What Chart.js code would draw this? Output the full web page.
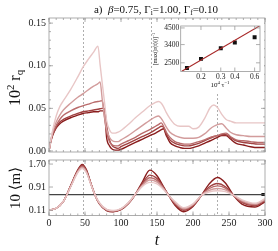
<!DOCTYPE html>
<html>
<head>
<meta charset="utf-8">
<script src="https://cdn.jsdelivr.net/npm/chart.js@4.4.1/dist/chart.umd.min.js"></script>
<style>
  body { margin: 0; background: #fff; }
  #wrap { position: relative; width: 278px; height: 251px; overflow: hidden; background: #fff; }
  canvas { position: absolute; }
  .lbl { position: absolute; white-space: nowrap; font-family: 'Liberation Serif', 'DejaVu Serif', serif; color: #111; line-height: 1; }
  .lbl sub, .lbl sup { font-size: 68%; line-height: 0; }
  .lbl sub { vertical-align: -0.3em; }
  .lbl sup { vertical-align: 0.55em; }
</style>
</head>
<body>
<div id="wrap">
  <canvas id="topChart" width="278" height="162" style="left:0;top:0"></canvas>
  <canvas id="botChart" width="278" height="101" style="left:0;top:150px"></canvas>
  <canvas id="insetChart" width="105" height="72" style="left:159px;top:20px;background:#fff"></canvas>

  <div class="lbl" style="left:156px;top:9px;transform:translate(-50%,-50%);font-size:11px">a)&nbsp; <i>β</i>=0.75, Γ<sub>i</sub>=1.00, Γ<sub>f</sub>=0.10</div>
  <div class="lbl" style="left:15px;top:88px;transform:translate(-50%,-50%) rotate(-90deg);font-size:16px">10<sup>2</sup> r<sub>q</sub></div>
  <div class="lbl" style="left:15px;top:188px;transform:translate(-50%,-50%) rotate(-90deg);font-size:15px">10 ⟨m⟩</div>
  <div class="lbl" style="left:157px;top:240px;transform:translate(-50%,-50%);font-size:16px"><i>t</i></div>
  <div class="lbl" style="left:155px;top:49px;transform:translate(-50%,-50%) rotate(-90deg);font-size:6px">[max(|r(t)|)]<sup>−1</sup></div>
  <div class="lbl" style="left:220px;top:85px;transform:translate(-50%,-50%);font-size:7px">10<sup>4</sup> τ<sup>−1</sup></div>
</div>

<script>
// time grids
const tTop = [0, 2, 5, 10, 15, 20, 30, 40, 47, 55, 62, 68, 71, 74, 77, 80, 84, 88, 92, 96, 100, 110, 120, 130, 140, 148, 152, 156, 159, 163, 168, 175, 182, 188, 194, 200, 208, 216, 224, 229, 234, 240, 246, 252, 260, 270, 280, 290, 300];
const tBot = [0, 10, 20, 30, 40, 46, 52, 58, 64, 70, 80, 89, 100, 110, 120, 130, 140, 150, 160, 166, 175, 187, 200, 212, 222, 234, 245, 256, 268, 286, 300];

// 10^2 r_q, lightest -> darkest
const rq1 = [0, 0.010, 0.024, 0.041, 0.052, 0.059, 0.072, 0.087, 0.098, 0.108, 0.116, 0.123, 0.101, 0.079, 0.058, 0.036, 0.025, 0.021, 0.021, 0.022, 0.024, 0.031, 0.039, 0.046, 0.053, 0.057, 0.058, 0.056, 0.052, 0.045, 0.038, 0.031, 0.029, 0.029, 0.029, 0.026, 0.028, 0.038, 0.051, 0.054, 0.051, 0.043, 0.037, 0.035, 0.033, 0.033, 0.033, 0.033, 0.033];
const rq2 = [0, 0.010, 0.022, 0.034, 0.042, 0.048, 0.056, 0.063, 0.067, 0.072, 0.076, 0.079, 0.081, 0.060, 0.041, 0.026, 0.016, 0.012, 0.011, 0.011, 0.013, 0.018, 0.024, 0.030, 0.036, 0.040, 0.041, 0.038, 0.034, 0.028, 0.022, 0.018, 0.016, 0.015, 0.015, 0.015, 0.016, 0.020, 0.026, 0.029, 0.031, 0.032, 0.027, 0.022, 0.019, 0.018, 0.017, 0.017, 0.017];
const rq3 = [0, 0.010, 0.020, 0.030, 0.037, 0.042, 0.047, 0.051, 0.053, 0.055, 0.057, 0.058, 0.0585, 0.059, 0.040, 0.022, 0.011, 0.007, 0.006, 0.006, 0.008, 0.012, 0.016, 0.021, 0.025, 0.029, 0.031, 0.033, 0.029, 0.022, 0.016, 0.011, 0.009, 0.008, 0.008, 0.009, 0.011, 0.013, 0.016, 0.017, 0.018, 0.020, 0.021, 0.017, 0.013, 0.012, 0.011, 0.010, 0.010];
const rq4 = [0, 0.010, 0.019, 0.028, 0.034, 0.037, 0.041, 0.044, 0.046, 0.047, 0.048, 0.049, 0.0495, 0.050, 0.050, 0.030, 0.013, 0.006, 0.004, 0.003, 0.005, 0.009, 0.013, 0.017, 0.021, 0.025, 0.027, 0.029, 0.028, 0.020, 0.013, 0.009, 0.007, 0.006, 0.006, 0.007, 0.009, 0.012, 0.015, 0.017, 0.018, 0.019, 0.019, 0.016, 0.012, 0.010, 0.009, 0.008, 0.008];
const rq5 = [0, 0.009, 0.018, 0.027, 0.032, 0.035, 0.039, 0.042, 0.044, 0.045, 0.046, 0.046, 0.047, 0.047, 0.047, 0.016, 0.006, 0.002, 0.001, 0.001, 0.002, 0.006, 0.010, 0.014, 0.018, 0.021, 0.023, 0.025, 0.026, 0.018, 0.010, 0.006, 0.004, 0.003, 0.003, 0.004, 0.006, 0.009, 0.012, 0.014, 0.016, 0.018, 0.018, 0.014, 0.009, 0.007, 0.005, 0.004, 0.004];

// 10 <m>, lightest -> darkest
const m1 = [0.11, 0.18, 0.42, 0.91, 1.41, 1.55, 1.40, 1.01, 0.63, 0.37, 0.14, 0.10, 0.17, 0.37, 0.66, 0.94, 1.07, 1.02, 0.80, 0.63, 0.41, 0.20, 0.33, 0.63, 0.74, 0.78, 0.75, 0.63, 0.47, 0.35, 0.51];
const m2 = [0.11, 0.18, 0.42, 0.92, 1.43, 1.58, 1.42, 1.02, 0.63, 0.36, 0.13, 0.09, 0.16, 0.36, 0.66, 0.97, 1.15, 1.08, 0.82, 0.63, 0.38, 0.17, 0.31, 0.63, 0.79, 0.86, 0.81, 0.63, 0.44, 0.32, 0.48];
const m3 = [0.11, 0.18, 0.42, 0.93, 1.46, 1.62, 1.45, 1.03, 0.63, 0.35, 0.12, 0.08, 0.15, 0.35, 0.66, 1.00, 1.23, 1.14, 0.84, 0.63, 0.35, 0.14, 0.29, 0.63, 0.85, 0.95, 0.87, 0.63, 0.41, 0.30, 0.46];
const m4 = [0.11, 0.18, 0.42, 0.94, 1.48, 1.66, 1.48, 1.04, 0.63, 0.34, 0.11, 0.07, 0.14, 0.34, 0.66, 1.04, 1.32, 1.20, 0.86, 0.63, 0.32, 0.11, 0.27, 0.63, 0.90, 1.03, 0.92, 0.63, 0.38, 0.27, 0.43];
const m5 = [0.11, 0.18, 0.42, 0.95, 1.50, 1.69, 1.50, 1.05, 0.63, 0.33, 0.10, 0.06, 0.13, 0.33, 0.66, 1.10, 1.49, 1.30, 0.88, 0.63, 0.28, 0.06, 0.24, 0.63, 1.00, 1.24, 1.05, 0.63, 0.32, 0.22, 0.40];
const mRef = 0.65;          // black horizontal line
const mRefT = [0, 300];
const mEndT = [295, 300];   // short dark mark at the right end

// inset: [max|r|]^-1 vs 10^4 tau^-1
const invTau = [0.15, 0.2, 0.3, 0.4, 0.6];
const invMax = [2290, 2672, 3192, 3526, 3850];
const fitX = [0.135, 0.67];
const fitY = [2170, 4680];

// ticks / markers
const markT = [47, 141, 234];
const xTicks = [0, 50, 100, 150, 200, 250, 300];
const rqTicks = [0, 0.05, 0.10, 0.15];
const mTicks = [0.11, 0.91, 1.70];
const insX = [0.2, 0.3, 0.4, 0.6];
const insY = [2500, 3400, 4500];

const colors = ['#e8c6c6', '#d29c9c', '#b96b6b', '#a04141', '#8a1d1d'];
const serif = "'Liberation Serif', 'DejaVu Serif', serif";
const tickFont = { family: serif, size: 10 };
const noGrid = { display: false, drawTicks: false };

const pts = (xs, ys) => xs.map((x, i) => ({ x: x, y: ys[i] }));
const range = (a, b, s) => { const r = []; for (let v = a; v <= b + 1e-9; v += s) r.push(+v.toFixed(4)); return r; };

// frame box, inward ticks, dashed markers
const framePlugin = {
  id: 'frame',
  beforeDatasetsDraw(chart, args, o) {
    if (!o.marks) return;
    const { ctx, chartArea: a } = chart, x = chart.scales.x;
    ctx.save();
    ctx.strokeStyle = '#8c8c8c'; ctx.lineWidth = 0.7; ctx.setLineDash([2, 2]);
    o.marks.forEach(v => {
      const px = Math.round(x.getPixelForValue(v)) + 0.5;
      ctx.beginPath(); ctx.moveTo(px, a.top); ctx.lineTo(px, a.bottom); ctx.stroke();
    });
    ctx.restore();
  },
  afterDatasetsDraw(chart, args, o) {
    const { ctx, chartArea: a } = chart, x = chart.scales.x, y = chart.scales.y;
    ctx.save();
    ctx.strokeStyle = '#9a9a9a'; ctx.lineWidth = 0.8;
    ctx.strokeRect(a.left, a.top, a.right - a.left, a.bottom - a.top);
    const xt = (vals, len) => (vals || []).forEach(v => {
      const px = x.getPixelForValue(v);
      ctx.beginPath();
      ctx.moveTo(px, a.bottom); ctx.lineTo(px, a.bottom - len);
      ctx.moveTo(px, a.top); ctx.lineTo(px, a.top + len);
      ctx.stroke();
    });
    const yt = (vals, len) => (vals || []).forEach(v => {
      const py = y.getPixelForValue(v);
      ctx.beginPath();
      ctx.moveTo(a.left, py); ctx.lineTo(a.left + len, py);
      ctx.moveTo(a.right, py); ctx.lineTo(a.right - len, py);
      ctx.stroke();
    });
    xt(o.xMajor, 4); xt(o.xMinor, 2);
    yt(o.yMajor, 4); yt(o.yMinor, 2);
    ctx.restore();
  }
};

const lineDs = (xs, ys, color, w) => ({
  data: pts(xs, ys), borderColor: color, borderWidth: w || 1.4,
  pointRadius: 0, cubicInterpolationMode: 'monotone', fill: false
});

const common = {
  responsive: false, animation: false, events: [],
  plugins: { legend: { display: false }, tooltip: { enabled: false } }
};

// top panel: r_q
new Chart(document.getElementById('topChart'), {
  type: 'line',
  data: { datasets: [rq1, rq2, rq3, rq4, rq5].map((d, i) => lineDs(tTop, d, colors[i])) },
  options: Object.assign({}, common, {
    layout: { padding: { top: 18, right: 13, bottom: 10, left: 0 } },
    plugins: Object.assign({}, common.plugins, {
      frame: { marks: markT, xMajor: xTicks, xMinor: range(0, 300, 10), yMajor: rqTicks, yMinor: range(0, 0.15, 0.01) }
    }),
    scales: {
      x: { type: 'linear', min: 0, max: 300, display: false },
      y: {
        min: -0.0012, max: 0.156,
        afterFit(s) { s.width = 49; },
        afterBuildTicks(s) { s.ticks = rqTicks.map(v => ({ value: v })); },
        grid: noGrid, border: { display: false },
        ticks: { padding: 3, font: tickFont, color: '#222', callback: v => v.toFixed(2) }
      }
    }
  }),
  plugins: [framePlugin]
});

// bottom panel: <m>
const botSets = [m1, m2, m3, m4, m5].map((d, i) => lineDs(tBot, d, colors[i]));
botSets.push(lineDs(mRefT, mRefT.map(() => mRef), '#444', 1.3));
botSets.push(lineDs(mEndT, mEndT.map(() => mRef), '#111', 3));
new Chart(document.getElementById('botChart'), {
  type: 'line',
  data: { datasets: botSets },
  options: Object.assign({}, common, {
    layout: { padding: { top: 10, right: 13, bottom: 0, left: 0 } },
    plugins: Object.assign({}, common.plugins, {
      frame: { marks: markT, xMajor: xTicks, xMinor: range(0, 300, 10), yMajor: mTicks }
    }),
    scales: {
      x: {
        type: 'linear', min: 0, max: 300,
        afterFit(s) { s.height = 35.5; },
        afterBuildTicks(s) { s.ticks = xTicks.map(v => ({ value: v })); },
        grid: noGrid, border: { display: false },
        ticks: { padding: 2, font: tickFont, color: '#222', maxRotation: 0, autoSkip: false }
      },
      y: {
        min: -0.07, max: 1.84,
        afterFit(s) { s.width = 49; },
        afterBuildTicks(s) { s.ticks = mTicks.map(v => ({ value: v })); },
        grid: noGrid, border: { display: false },
        ticks: { padding: 3, font: tickFont, color: '#222', callback: v => v.toFixed(2) }
      }
    }
  }),
  plugins: [framePlugin]
});

// inset
const insFont = { family: serif, size: 7.5 };
new Chart(document.getElementById('insetChart'), {
  type: 'line',
  data: {
    datasets: [
      { data: pts(fitX, fitY), borderColor: '#a82828', borderWidth: 1.1, pointRadius: 0, tension: 0 },
      { data: pts(invTau, invMax), showLine: false, pointStyle: 'rect', pointRadius: 2.8,
        pointBackgroundColor: '#111', pointBorderColor: '#111', pointBorderWidth: 0 }
    ]
  },
  options: Object.assign({}, common, {
    layout: { padding: { top: 5.3, right: 3, bottom: 0, left: 0 } },
    plugins: Object.assign({}, common.plugins, {
      frame: { xMajor: insX, yMajor: insY }
    }),
    scales: {
      x: {
        type: 'logarithmic', min: 0.132, max: 0.67,
        afterFit(s) { s.height = 20.5; },
        afterBuildTicks(s) { s.ticks = insX.map(v => ({ value: v })); },
        grid: noGrid, border: { display: false },
        ticks: { padding: 1, font: insFont, color: '#222', maxRotation: 0, autoSkip: false, callback: v => String(v) }
      },
      y: {
        type: 'logarithmic', min: 2160, max: 4650,
        afterFit(s) { s.width = 21.7; },
        afterBuildTicks(s) { s.ticks = insY.map(v => ({ value: v })); },
        grid: noGrid, border: { display: false },
        ticks: { padding: 1.5, font: insFont, color: '#222', autoSkip: false, callback: v => String(v) }
      }
    }
  }),
  plugins: [framePlugin]
});
</script>
</body>
</html>
